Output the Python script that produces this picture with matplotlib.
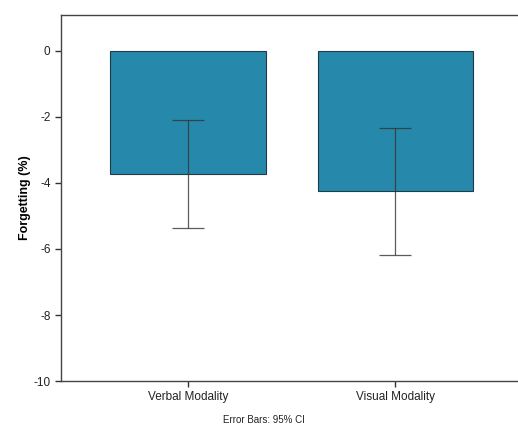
import matplotlib.pyplot as plt
import numpy as np

plt.rcParams['font.family'] = ['Liberation Sans', 'DejaVu Sans']
plt.rcParams['axes.unicode_minus'] = False

categories = ['Verbal Modality', 'Visual Modality']
means = [-3.72, -4.25]
ci_low = [-5.35, -6.19]
ci_high = [-2.08, -2.33]

x = np.arange(len(categories))
yerr = [np.array(means) - np.array(ci_low), np.array(ci_high) - np.array(means)]

fig = plt.figure(figsize=(5.18, 4.25), dpi=100)
ax = fig.add_axes([0.1178, 0.1035, 0.8822, 0.8612])

ax.bar(x, means, width=0.75, color='#2689ab', edgecolor='#1e3c48', linewidth=0.8, zorder=2)
ax.errorbar(x, means, yerr=yerr, fmt='none', ecolor='#333333', elinewidth=0.9,
            capsize=11.5, capthick=0.9, zorder=3, alpha=0.8)

ax.set_xlim(-0.61, 1.59)
ax.set_ylim(-10, 1.09)
ax.set_yticks([0, -2, -4, -6, -8, -10])
ax.set_xticks(x)
ax.set_xticklabels(categories)
ax.tick_params(axis='both', labelsize=8.5, colors='#333333', length=4, width=1, direction='out')
for lbl in ax.get_xticklabels() + ax.get_yticklabels():
    lbl.set_color('#222222')

ax.spines['right'].set_visible(False)
for s in ['left', 'bottom', 'top']:
    ax.spines[s].set_color('#444444')
    ax.spines[s].set_linewidth(1.0)

ax.set_ylabel('Forgetting (%)', fontsize=9, fontweight='bold', labelpad=2)
fig.text(0.51, 0.005, 'Error Bars: 95% CI', ha='center', fontsize=7, color='#222222')

fig.savefig('out.png', dpi=100)
